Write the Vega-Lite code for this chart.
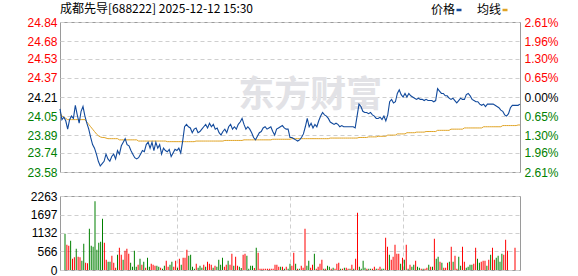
{
"$schema":"https://vega.github.io/schema/vega-lite/v6.json",
"padding":{"left":26,"top":2,"right":5,"bottom":0},
"background":"#ffffff",
"title":{"text":"成都先导[688222] 2025-12-12 15:30","anchor":"start","frame":"group","font":"Noto Sans CJK SC","fontSize":12,"fontWeight":"normal","color":"#000000","offset":4,"dy":16},
"datasets":{"m":[
{"i":0,"p":24.11,"a":24.08,"v":1110,"d":"g"},
{"i":1,"p":24.02,"a":24.05,"v":775,"d":"r"},
{"i":2,"p":24.04,"a":24.04,"v":745,"d":"r"},
{"i":3,"p":24.01,"a":24.03,"v":897,"d":"g"},
{"i":4,"p":23.94,"a":24.02,"v":346,"d":"r"},
{"i":5,"p":24.02,"a":24.02,"v":387,"d":"r"},
{"i":6,"p":24.05,"a":24.02,"v":652,"d":"g"},
{"i":7,"p":24.03,"a":24.02,"v":408,"d":"r"},
{"i":8,"p":24.14,"a":24.02,"v":387,"d":"r"},
{"i":9,"p":24.06,"a":24.02,"v":285,"d":"g"},
{"i":10,"p":23.99,"a":24.02,"v":805,"d":"g"},
{"i":11,"p":24.09,"a":24.02,"v":224,"d":"r"},
{"i":12,"p":24.13,"a":24.02,"v":204,"d":"r"},
{"i":13,"p":24.05,"a":24.02,"v":1264,"d":"g"},
{"i":14,"p":23.99,"a":24.00,"v":744,"d":"g"},
{"i":15,"p":23.94,"a":23.98,"v":713,"d":"g"},
{"i":16,"p":23.87,"a":23.96,"v":2099,"d":"g"},
{"i":17,"p":23.81,"a":23.94,"v":622,"d":"g"},
{"i":18,"p":23.78,"a":23.92,"v":836,"d":"g"},
{"i":19,"p":23.73,"a":23.90,"v":866,"d":"g"},
{"i":20,"p":23.67,"a":23.885,"v":1569,"d":"g"},
{"i":21,"p":23.63,"a":23.875,"v":836,"d":"r"},
{"i":22,"p":23.65,"a":23.87,"v":316,"d":"r"},
{"i":23,"p":23.67,"a":23.87,"v":255,"d":"g"},
{"i":24,"p":23.73,"a":23.865,"v":255,"d":"g"},
{"i":25,"p":23.69,"a":23.86,"v":438,"d":"r"},
{"i":26,"p":23.67,"a":23.86,"v":224,"d":"r"},
{"i":27,"p":23.71,"a":23.86,"v":71,"d":"r"},
{"i":28,"p":23.73,"a":23.86,"v":469,"d":"g"},
{"i":29,"p":23.69,"a":23.86,"v":683,"d":"r"},
{"i":30,"p":23.76,"a":23.86,"v":469,"d":"r"},
{"i":31,"p":23.73,"a":23.85,"v":316,"d":"g"},
{"i":32,"p":23.80,"a":23.85,"v":591,"d":"r"},
{"i":33,"p":23.83,"a":23.85,"v":652,"d":"r"},
{"i":34,"p":23.86,"a":23.85,"v":500,"d":"r"},
{"i":35,"p":23.81,"a":23.85,"v":224,"d":"g"},
{"i":36,"p":23.80,"a":23.85,"v":102,"d":"g"},
{"i":37,"p":23.76,"a":23.85,"v":591,"d":"g"},
{"i":38,"p":23.73,"a":23.85,"v":102,"d":"g"},
{"i":39,"p":23.70,"a":23.85,"v":163,"d":"r"},
{"i":40,"p":23.69,"a":23.85,"v":346,"d":"g"},
{"i":41,"p":23.70,"a":23.84,"v":163,"d":"r"},
{"i":42,"p":23.73,"a":23.84,"v":255,"d":"g"},
{"i":43,"p":23.76,"a":23.84,"v":71,"d":"r"},
{"i":44,"p":23.75,"a":23.84,"v":377,"d":"g"},
{"i":45,"p":23.81,"a":23.84,"v":102,"d":"g"},
{"i":46,"p":23.83,"a":23.84,"v":194,"d":"r"},
{"i":47,"p":23.78,"a":23.84,"v":163,"d":"r"},
{"i":48,"p":23.83,"a":23.84,"v":132,"d":"r"},
{"i":49,"p":23.76,"a":23.84,"v":132,"d":"g"},
{"i":50,"p":23.83,"a":23.84,"v":102,"d":"g"},
{"i":51,"p":23.78,"a":23.84,"v":71,"d":"r"},
{"i":52,"p":23.81,"a":23.84,"v":41,"d":"g"},
{"i":53,"p":23.73,"a":23.84,"v":132,"d":"g"},
{"i":54,"p":23.78,"a":23.84,"v":285,"d":"r"},
{"i":55,"p":23.76,"a":23.84,"v":102,"d":"r"},
{"i":56,"p":23.75,"a":23.835,"v":163,"d":"g"},
{"i":57,"p":23.77,"a":23.835,"v":255,"d":"g"},
{"i":58,"p":23.71,"a":23.835,"v":102,"d":"r"},
{"i":59,"p":23.74,"a":23.835,"v":285,"d":"r"},
{"i":60,"p":23.77,"a":23.835,"v":71,"d":"g"},
{"i":61,"p":23.76,"a":23.835,"v":346,"d":"r"},
{"i":62,"p":23.78,"a":23.835,"v":163,"d":"g"},
{"i":63,"p":23.74,"a":23.835,"v":377,"d":"r"},
{"i":64,"p":23.84,"a":23.835,"v":377,"d":"r"},
{"i":65,"p":23.96,"a":23.835,"v":622,"d":"r"},
{"i":66,"p":23.98,"a":23.835,"v":438,"d":"g"},
{"i":67,"p":23.96,"a":23.835,"v":469,"d":"g"},
{"i":68,"p":23.95,"a":23.835,"v":102,"d":"g"},
{"i":69,"p":23.91,"a":23.835,"v":41,"d":"g"},
{"i":70,"p":23.94,"a":23.835,"v":194,"d":"r"},
{"i":71,"p":23.95,"a":23.84,"v":71,"d":"g"},
{"i":72,"p":23.91,"a":23.84,"v":132,"d":"g"},
{"i":73,"p":23.92,"a":23.84,"v":71,"d":"g"},
{"i":74,"p":23.94,"a":23.84,"v":163,"d":"r"},
{"i":75,"p":23.96,"a":23.84,"v":102,"d":"g"},
{"i":76,"p":23.98,"a":23.84,"v":255,"d":"r"},
{"i":77,"p":23.95,"a":23.84,"v":194,"d":"r"},
{"i":78,"p":23.99,"a":23.84,"v":163,"d":"r"},
{"i":79,"p":23.96,"a":23.84,"v":71,"d":"g"},
{"i":80,"p":23.98,"a":23.84,"v":132,"d":"r"},
{"i":81,"p":23.94,"a":23.84,"v":102,"d":"g"},
{"i":82,"p":23.95,"a":23.84,"v":316,"d":"g"},
{"i":83,"p":23.91,"a":23.84,"v":163,"d":"g"},
{"i":84,"p":23.89,"a":23.84,"v":377,"d":"g"},
{"i":85,"p":23.92,"a":23.84,"v":102,"d":"r"},
{"i":86,"p":23.94,"a":23.845,"v":163,"d":"r"},
{"i":87,"p":23.91,"a":23.845,"v":285,"d":"g"},
{"i":88,"p":23.96,"a":23.845,"v":163,"d":"r"},
{"i":89,"p":23.98,"a":23.845,"v":500,"d":"r"},
{"i":90,"p":23.94,"a":23.845,"v":132,"d":"g"},
{"i":91,"p":23.96,"a":23.845,"v":408,"d":"r"},
{"i":92,"p":23.94,"a":23.845,"v":132,"d":"r"},
{"i":93,"p":23.98,"a":23.845,"v":102,"d":"g"},
{"i":94,"p":24.00,"a":23.845,"v":60,"d":"g"},
{"i":95,"p":24.03,"a":23.845,"v":469,"d":"r"},
{"i":96,"p":23.98,"a":23.85,"v":500,"d":"r"},
{"i":97,"p":23.94,"a":23.85,"v":438,"d":"g"},
{"i":98,"p":23.96,"a":23.85,"v":41,"d":"g"},
{"i":99,"p":23.94,"a":23.85,"v":132,"d":"g"},
{"i":100,"p":23.91,"a":23.85,"v":132,"d":"g"},
{"i":101,"p":23.87,"a":23.85,"v":60,"d":"r"},
{"i":102,"p":23.85,"a":23.85,"v":683,"d":"g"},
{"i":103,"p":23.88,"a":23.85,"v":530,"d":"r"},
{"i":104,"p":23.91,"a":23.85,"v":40,"d":"r"},
{"i":105,"p":23.92,"a":23.85,"v":40,"d":"r"},
{"i":106,"p":23.95,"a":23.85,"v":35,"d":"r"},
{"i":107,"p":23.96,"a":23.85,"v":40,"d":"r"},
{"i":108,"p":23.94,"a":23.85,"v":35,"d":"r"},
{"i":109,"p":23.95,"a":23.85,"v":40,"d":"r"},
{"i":110,"p":23.96,"a":23.85,"v":35,"d":"r"},
{"i":111,"p":23.92,"a":23.855,"v":40,"d":"r"},
{"i":112,"p":23.89,"a":23.855,"v":163,"d":"r"},
{"i":113,"p":23.94,"a":23.855,"v":163,"d":"r"},
{"i":114,"p":23.95,"a":23.855,"v":102,"d":"r"},
{"i":115,"p":23.96,"a":23.855,"v":102,"d":"g"},
{"i":116,"p":23.97,"a":23.855,"v":102,"d":"r"},
{"i":117,"p":23.95,"a":23.855,"v":41,"d":"g"},
{"i":118,"p":23.94,"a":23.855,"v":102,"d":"r"},
{"i":119,"p":23.94,"a":23.855,"v":41,"d":"g"},
{"i":120,"p":23.87,"a":23.855,"v":194,"d":"g"},
{"i":121,"p":23.87,"a":23.86,"v":132,"d":"r"},
{"i":122,"p":23.86,"a":23.86,"v":530,"d":"r"},
{"i":123,"p":23.85,"a":23.86,"v":194,"d":"g"},
{"i":124,"p":23.84,"a":23.86,"v":41,"d":"r"},
{"i":125,"p":23.85,"a":23.86,"v":41,"d":"g"},
{"i":126,"p":23.87,"a":23.86,"v":132,"d":"r"},
{"i":127,"p":23.90,"a":23.86,"v":71,"d":"r"},
{"i":128,"p":23.96,"a":23.86,"v":1264,"d":"r"},
{"i":129,"p":24.03,"a":23.86,"v":132,"d":"g"},
{"i":130,"p":23.96,"a":23.86,"v":285,"d":"g"},
{"i":131,"p":23.99,"a":23.86,"v":71,"d":"r"},
{"i":132,"p":23.95,"a":23.86,"v":163,"d":"r"},
{"i":133,"p":23.98,"a":23.86,"v":500,"d":"g"},
{"i":134,"p":23.96,"a":23.86,"v":41,"d":"r"},
{"i":135,"p":24.01,"a":23.86,"v":102,"d":"r"},
{"i":136,"p":24.05,"a":23.86,"v":194,"d":"r"},
{"i":137,"p":24.08,"a":23.86,"v":316,"d":"r"},
{"i":138,"p":24.06,"a":23.86,"v":41,"d":"g"},
{"i":139,"p":24.05,"a":23.86,"v":41,"d":"r"},
{"i":140,"p":24.03,"a":23.86,"v":132,"d":"g"},
{"i":141,"p":24.00,"a":23.865,"v":102,"d":"g"},
{"i":142,"p":23.99,"a":23.865,"v":41,"d":"r"},
{"i":143,"p":23.98,"a":23.865,"v":71,"d":"g"},
{"i":144,"p":23.99,"a":23.865,"v":41,"d":"r"},
{"i":145,"p":23.98,"a":23.865,"v":194,"d":"r"},
{"i":146,"p":23.96,"a":23.865,"v":224,"d":"r"},
{"i":147,"p":23.97,"a":23.865,"v":41,"d":"g"},
{"i":148,"p":23.96,"a":23.865,"v":41,"d":"r"},
{"i":149,"p":23.96,"a":23.865,"v":71,"d":"g"},
{"i":150,"p":23.96,"a":23.865,"v":71,"d":"r"},
{"i":151,"p":23.96,"a":23.865,"v":41,"d":"r"},
{"i":152,"p":23.96,"a":23.865,"v":41,"d":"g"},
{"i":153,"p":23.96,"a":23.865,"v":163,"d":"r"},
{"i":154,"p":23.95,"a":23.865,"v":41,"d":"g"},
{"i":155,"p":24.05,"a":23.865,"v":346,"d":"r"},
{"i":156,"p":24.15,"a":23.87,"v":1753,"d":"r"},
{"i":157,"p":24.13,"a":23.87,"v":102,"d":"g"},
{"i":158,"p":24.09,"a":23.87,"v":41,"d":"g"},
{"i":159,"p":24.08,"a":23.87,"v":285,"d":"g"},
{"i":160,"p":24.08,"a":23.87,"v":71,"d":"g"},
{"i":161,"p":24.07,"a":23.875,"v":41,"d":"r"},
{"i":162,"p":24.08,"a":23.875,"v":41,"d":"g"},
{"i":163,"p":24.06,"a":23.875,"v":41,"d":"g"},
{"i":164,"p":24.05,"a":23.875,"v":41,"d":"r"},
{"i":165,"p":24.03,"a":23.875,"v":102,"d":"r"},
{"i":166,"p":24.03,"a":23.88,"v":41,"d":"g"},
{"i":167,"p":24.04,"a":23.88,"v":41,"d":"r"},
{"i":168,"p":24.02,"a":23.88,"v":102,"d":"r"},
{"i":169,"p":24.05,"a":23.88,"v":41,"d":"g"},
{"i":170,"p":24.01,"a":23.88,"v":41,"d":"g"},
{"i":171,"p":24.06,"a":23.89,"v":988,"d":"r"},
{"i":172,"p":24.17,"a":23.89,"v":713,"d":"r"},
{"i":173,"p":24.19,"a":23.89,"v":469,"d":"g"},
{"i":174,"p":24.16,"a":23.89,"v":316,"d":"r"},
{"i":175,"p":24.17,"a":23.89,"v":408,"d":"r"},
{"i":176,"p":24.24,"a":23.90,"v":775,"d":"r"},
{"i":177,"p":24.27,"a":23.90,"v":500,"d":"r"},
{"i":178,"p":24.23,"a":23.90,"v":500,"d":"r"},
{"i":179,"p":24.21,"a":23.90,"v":194,"d":"g"},
{"i":180,"p":24.24,"a":23.90,"v":377,"d":"r"},
{"i":181,"p":24.21,"a":23.91,"v":316,"d":"g"},
{"i":182,"p":24.24,"a":23.91,"v":775,"d":"r"},
{"i":183,"p":24.22,"a":23.91,"v":41,"d":"g"},
{"i":184,"p":24.21,"a":23.91,"v":163,"d":"r"},
{"i":185,"p":24.20,"a":23.91,"v":102,"d":"g"},
{"i":186,"p":24.19,"a":23.915,"v":163,"d":"g"},
{"i":187,"p":24.20,"a":23.915,"v":285,"d":"r"},
{"i":188,"p":24.19,"a":23.915,"v":102,"d":"g"},
{"i":189,"p":24.19,"a":23.915,"v":71,"d":"g"},
{"i":190,"p":24.18,"a":23.915,"v":41,"d":"r"},
{"i":191,"p":24.19,"a":23.92,"v":41,"d":"g"},
{"i":192,"p":24.18,"a":23.92,"v":41,"d":"r"},
{"i":193,"p":24.18,"a":23.92,"v":71,"d":"r"},
{"i":194,"p":24.18,"a":23.92,"v":163,"d":"g"},
{"i":195,"p":24.17,"a":23.92,"v":102,"d":"r"},
{"i":196,"p":24.18,"a":23.92,"v":102,"d":"g"},
{"i":197,"p":24.28,"a":23.93,"v":958,"d":"r"},
{"i":198,"p":24.26,"a":23.93,"v":346,"d":"g"},
{"i":199,"p":24.24,"a":23.93,"v":408,"d":"g"},
{"i":200,"p":24.24,"a":23.93,"v":255,"d":"r"},
{"i":201,"p":24.22,"a":23.93,"v":224,"d":"g"},
{"i":202,"p":24.22,"a":23.93,"v":71,"d":"r"},
{"i":203,"p":24.20,"a":23.93,"v":71,"d":"r"},
{"i":204,"p":24.19,"a":23.94,"v":224,"d":"r"},
{"i":205,"p":24.20,"a":23.94,"v":255,"d":"g"},
{"i":206,"p":24.18,"a":23.94,"v":713,"d":"r"},
{"i":207,"p":24.16,"a":23.94,"v":255,"d":"g"},
{"i":208,"p":24.18,"a":23.94,"v":438,"d":"r"},
{"i":209,"p":24.20,"a":23.94,"v":41,"d":"r"},
{"i":210,"p":24.19,"a":23.94,"v":408,"d":"g"},
{"i":211,"p":24.19,"a":23.95,"v":132,"d":"g"},
{"i":212,"p":24.23,"a":23.95,"v":713,"d":"r"},
{"i":213,"p":24.24,"a":23.95,"v":255,"d":"r"},
{"i":214,"p":24.22,"a":23.95,"v":71,"d":"g"},
{"i":215,"p":24.19,"a":23.95,"v":102,"d":"g"},
{"i":216,"p":24.18,"a":23.95,"v":163,"d":"g"},
{"i":217,"p":24.17,"a":23.95,"v":163,"d":"g"},
{"i":218,"p":24.17,"a":23.95,"v":194,"d":"r"},
{"i":219,"p":24.15,"a":23.95,"v":683,"d":"r"},
{"i":220,"p":24.14,"a":23.95,"v":346,"d":"g"},
{"i":221,"p":24.15,"a":23.96,"v":224,"d":"g"},
{"i":222,"p":24.13,"a":23.96,"v":255,"d":"r"},
{"i":223,"p":24.15,"a":23.96,"v":285,"d":"r"},
{"i":224,"p":24.15,"a":23.96,"v":285,"d":"r"},
{"i":225,"p":24.15,"a":23.96,"v":132,"d":"g"},
{"i":226,"p":24.15,"a":23.96,"v":316,"d":"r"},
{"i":227,"p":24.14,"a":23.96,"v":469,"d":"g"},
{"i":228,"p":24.13,"a":23.96,"v":683,"d":"r"},
{"i":229,"p":24.12,"a":23.96,"v":316,"d":"r"},
{"i":230,"p":24.10,"a":23.96,"v":377,"d":"g"},
{"i":231,"p":24.09,"a":23.97,"v":438,"d":"g"},
{"i":232,"p":24.06,"a":23.97,"v":255,"d":"g"},
{"i":233,"p":24.05,"a":23.97,"v":500,"d":"g"},
{"i":234,"p":24.07,"a":23.97,"v":469,"d":"r"},
{"i":235,"p":24.12,"a":23.97,"v":927,"d":"r"},
{"i":236,"p":24.14,"a":23.97,"v":591,"d":"r"},
{"i":237,"p":24.14,"a":23.97,"v":0,"d":"r"},
{"i":238,"p":24.14,"a":23.97,"v":0,"d":"r"},
{"i":239,"p":24.14,"a":23.975,"v":0,"d":"r"},
{"i":240,"p":24.15,"a":23.975,"v":683,"d":"r"}
]},
"data":{"name":"m"},
"bounds":"flush",
"spacing":24,
"resolve":{"scale":{"color":"independent","y":"independent"}},
"config":{
 "view":{"stroke":"#9a9a9a","strokeWidth":1},
 "axis":{"labelFont":"Liberation Sans","labelFontSize":12,"ticks":false,"domain":false,"title":null,"gridColor":"#cfcfcf","gridDash":[4,3],"gridWidth":1}
},
"vconcat":[
 {
  "width":460,"height":150,
  "layer":[
   {"data":{"values":[{"w":"东方财富","x":130.5,"y":24.22}]},
    "mark":{"type":"text","font":"Noto Sans CJK SC","fontSize":36,"fontWeight":"bold","fill":"#e2e2e6","align":"center","baseline":"middle"},
    "encoding":{"x":{"field":"x","type":"quantitative","scale":{"domain":[0,240],"nice":false,"zero":false},"axis":null},"y":{"field":"y","type":"quantitative","axis":null},"text":{"field":"w","type":"nominal"}}},
   {"mark":{"type":"line","strokeWidth":1},
    "encoding":{"x":{"field":"i","type":"quantitative",
      "axis":{"values":[0,60,120,180,240],"labelExpr":"['09:30','10:30','11:30/13:00','14:00','15:00'][round(datum.value/60)]","labelFlush":true,"labelPadding":5,"grid":true,"labelColor":"#000000",
       "encode":{"grid":{"update":{"strokeOpacity":[{"test":"datum.value<=0||datum.value>=240","value":0},{"value":1}]}}}}},
     "y":{"field":"a","type":"quantitative","scale":{"domain":[23.58,24.84],"nice":false,"zero":false},
      "axis":{"orient":"right","values":[24.84,24.68,24.53,24.37,24.21,24.05,23.89,23.74,23.58],"labelPadding":4,"grid":false,
       "labelExpr":"['0.00%','0.65%','1.30%','1.96%','2.61%'][round(abs(datum.value-24.21)/0.1575)]",
       "labelColor":{"condition":[{"test":"datum.value>24.22","value":"#ff0000"},{"test":"datum.value<24.2","value":"#008000"}],"value":"#000000"}}},
     "color":{"datum":"均线","type":"nominal"}}},
   {"mark":{"type":"line","strokeWidth":1.1},
    "encoding":{"x":{"field":"i","type":"quantitative"},
     "y":{"field":"p","type":"quantitative",
      "axis":{"orient":"left","values":[24.84,24.68,24.53,24.37,24.21,24.05,23.89,23.74,23.58],"format":".2f","labelPadding":3,"grid":true,
       "labelColor":{"condition":[{"test":"datum.value>24.22","value":"#ff0000"},{"test":"datum.value<24.2","value":"#008000"}],"value":"#000000"},
       "encode":{"grid":{"update":{"strokeOpacity":[{"test":"datum.value<=23.581||datum.value>=24.839","value":0},{"value":1}]}}}}},
     "color":{"datum":"价格","type":"nominal","scale":{"domain":["价格","均线"],"range":["#124a9c","#e0a426"]},
      "legend":{"orient":"none","legendX":393,"legendY":-18,"direction":"horizontal","title":null,"labelFont":"Noto Sans CJK SC","labelFontSize":12,"labelColor":"#000000",
       "symbolType":"stroke","symbolSize":25,"symbolStrokeWidth":2.5,"labelAlign":"right","labelOffset":-10,"columnPadding":9}}}}
  ],
  "resolve":{"axis":{"y":"independent"}}
 },
 {
  "width":460,"height":74,
  "mark":{"type":"bar","width":1},
  "encoding":{
   "x":{"field":"i","type":"quantitative","scale":{"domain":[0,240],"nice":false,"zero":false},"axis":{"values":[60,120,180],"labels":false,"grid":true}},
   "y":{"field":"v","type":"quantitative","scale":{"domain":[0,2263],"nice":false},
    "axis":{"values":[0,566,1132,1697,2263],"format":"d","grid":true,"labelPadding":3,"labelColor":"#000000",
     "encode":{"grid":{"update":{"strokeOpacity":[{"test":"datum.value<=0||datum.value>=2263","value":0},{"value":1}]}}}}},
   "color":{"field":"d","type":"nominal","scale":{"domain":["r","g"],"range":["#ff0000","#008000"]},"legend":null}
  }
 }
]
}
